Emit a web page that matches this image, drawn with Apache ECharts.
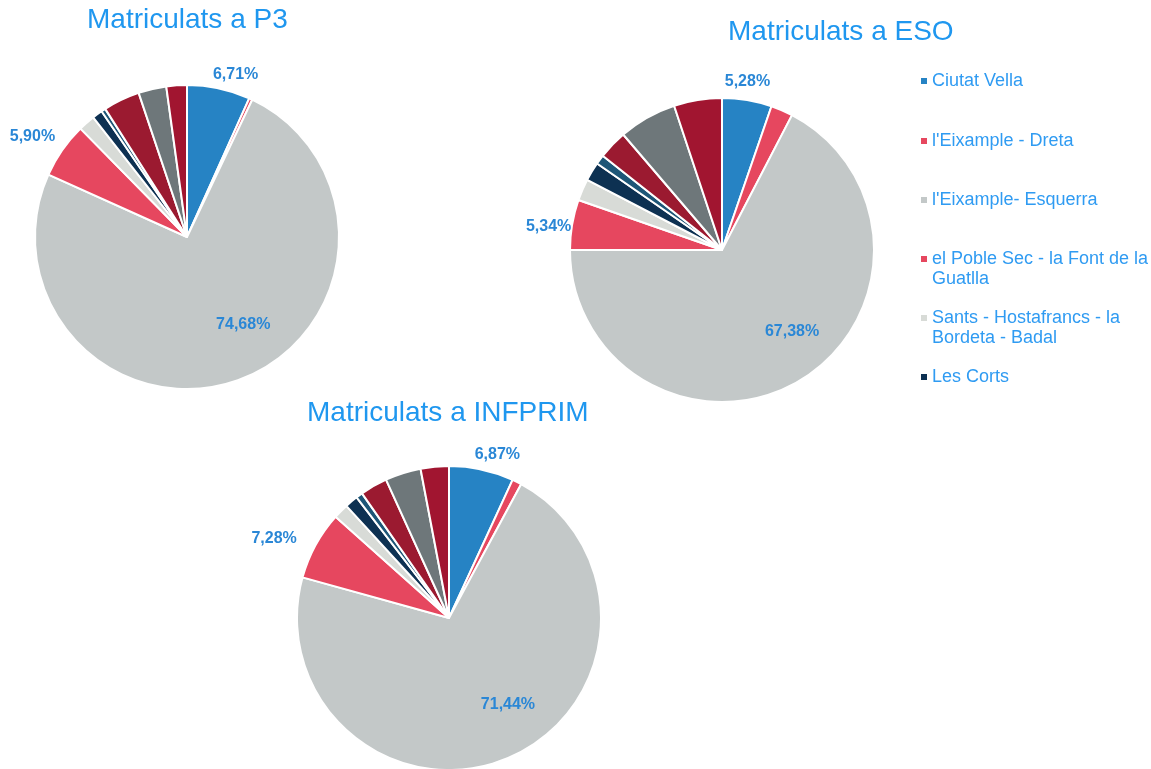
<!DOCTYPE html>
<html>
<head>
<meta charset="utf-8">
<script src="https://cdn.jsdelivr.net/npm/echarts@6/dist/echarts.min.js"></script>
<style>
  html, body { margin: 0; padding: 0; background: #fff; }
  #chart { width: 1151px; height: 769px; }
</style>
</head>
<body>
<div id="chart"></div>
<script>
// ---- data ----
const categories = [
  'Ciutat Vella',
  "l'Eixample - Dreta",
  "l'Eixample- Esquerra",
  'el Poble Sec - la Font de la Guatlla',
  'Sants - Hostafrancs - la Bordeta - Badal',
  'Les Corts',
  'Sarrià - Sant Gervasi',
  'Gràcia',
  'Horta - Guinardó',
  'Nou Barris'
];
const legendNames = categories.slice(0, 6);
const titles = ['Matriculats a P3', 'Matriculats a ESO', 'Matriculats a INFPRIM'];
const valuesP3 = [6.71, 0.35, 74.68, 5.90, 1.77, 1.09, 0.46, 3.89, 2.97, 2.18];
const valuesESO = [5.28, 2.34, 67.38, 5.34, 2.30, 2.00, 1.00, 3.10, 6.16, 5.10];
const valuesINFPRIM = [6.87, 1.00, 71.44, 7.28, 1.61, 1.40, 0.70, 2.90, 3.80, 3.00];
const labelledIndices = [0, 2, 3];

// ---- styles / layout ----
const palette = ['#2683c4', '#e6475f', '#c3c8c8', '#e6475f', '#d8dbd7',
                 '#0d3152', '#1d5677', '#9b1a30', '#6e777a', '#a11530'];
const labelColor = '#2a87d6';
const titleColor = '#1f97ef';
const legendColor = '#2f9bf2';
const pies = [
  { values: valuesP3, center: [187, 237], title: [87, 6],
    offsets: { 0: [-13, -4], 2: [29, 13], 3: [6, -8] } },
  { values: valuesESO, center: [722, 250], title: [728, 18],
    offsets: { 0: [-29, -9], 2: [29, 14], 3: [14, 4] } },
  { values: valuesINFPRIM, center: [449, 618], title: [307, 399],
    offsets: { 0: [-14, -5], 2: [28, 14], 3: [-5, -2] } }
];
const legendTops = [71, 131, 190, 229, 288, 367];
const legendTwoLine = [false, false, false, true, true, false];

const fmt = v => v.toFixed(2).replace('.', ',') + '%';

const series = pies.map((p, si) => ({
  type: 'pie',
  center: p.center,
  radius: [0, 152],
  startAngle: 90,
  clockwise: true,
  avoidLabelOverlap: false,
  animation: false,
  emphasis: { disabled: true },
  itemStyle: { borderColor: '#ffffff', borderWidth: 2 },
  label: { show: false },
  labelLine: { show: false },
  data: p.values.map((v, i) => {
    const item = { name: categories[i], value: v, itemStyle: { color: palette[i] } };
    if (labelledIndices.includes(i)) {
      item.label = {
        show: true,
        position: i === 2 ? 'inside' : 'outside',
        formatter: params => fmt(params.value),
        color: labelColor,
        fontFamily: 'Liberation Sans',
        fontWeight: 'bold',
        fontSize: 16,
        offset: p.offsets[i]
      };
      item.labelLine = { show: false, length: 10, length2: 0 };
    }
    return item;
  })
}));

const title = pies.map((p, i) => ({
  text: titles[i],
  left: p.title[0],
  top: p.title[1],
  padding: 0,
  textStyle: { color: titleColor, fontFamily: 'Liberation Sans', fontSize: 28, fontWeight: 'normal' }
}));

const legend = legendNames.map((name, i) => ({
  data: [name],
  orient: 'vertical',
  left: 921,
  top: legendTops[i],
  padding: 0,
  itemWidth: 6,
  itemHeight: 6,
  icon: 'rect',
  selectedMode: false,
  itemStyle: { borderWidth: 0 },
  formatter: n => (legendTwoLine[i] ? '\n' : '') + n,
  textStyle: {
    color: legendColor,
    fontFamily: 'Liberation Sans',
    fontSize: 18,
    lineHeight: 20,
    width: 222,
    overflow: 'break'
  }
}));

const chart = echarts.init(document.getElementById('chart'), null, { renderer: 'canvas' });
chart.setOption({
  backgroundColor: '#ffffff',
  animation: false,
  title: title,
  legend: legend,
  series: series
});
</script>
</body>
</html>
